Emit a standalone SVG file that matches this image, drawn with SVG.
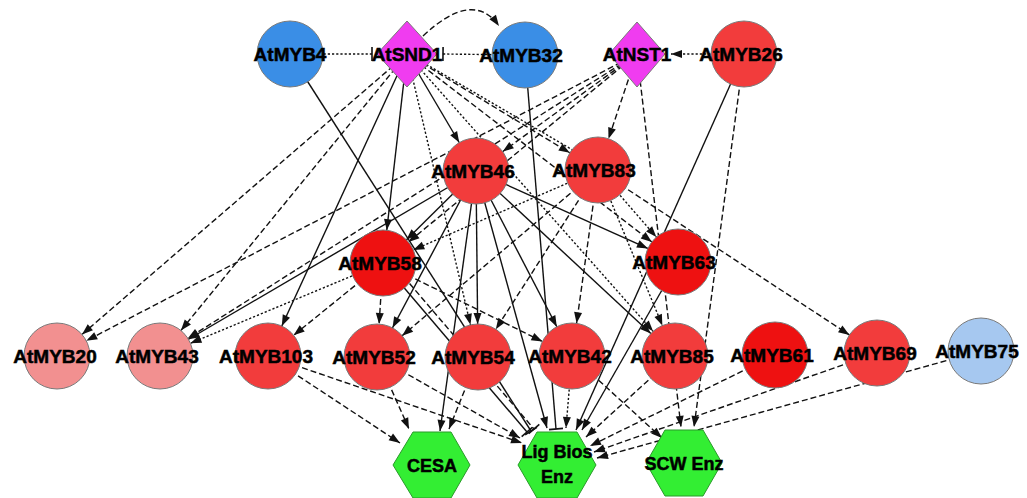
<svg xmlns="http://www.w3.org/2000/svg" width="1027" height="498" viewBox="0 0 1027 498">
<style>
.c line,.c path{stroke:#111;stroke-width:1.4;fill:none}
.d{stroke-dasharray:6 3}
.o{stroke-dasharray:2.2 2}
.n{stroke:#7a7a7a;stroke-width:1}
.blue{fill:#3a8ee6}
.lblue{fill:#a6c8f0}
.mag{fill:#f03cf0}
.red{fill:#f23c3c}
.dred{fill:#ee1111}
.pink{fill:#f29090}
.hex{fill:#33ee33;stroke:#2a9a2a;stroke-width:1}
text{font-family:"Liberation Sans",Arial,sans-serif;font-weight:bold;font-size:19px;text-anchor:middle;fill:#000;stroke:#000;stroke-width:0.5}
.h{font-size:18px}
</style>
<defs>
<marker id="a0" markerUnits="userSpaceOnUse" viewBox="-12 -6 14 12" refX="0" refY="0" markerWidth="14" markerHeight="12" orient="auto"><path d="M0,0 L-11,-4 L-11,4 z" fill="#111"/></marker>
<marker id="a33" markerUnits="userSpaceOnUse" viewBox="-46 -6 48 12" refX="0" refY="0" markerWidth="48" markerHeight="12" orient="auto"><path d="M-33,0 L-44,-4 L-44,4 z" fill="#111"/></marker>
<marker id="t0" markerUnits="userSpaceOnUse" viewBox="-3 -8 6 16" refX="0" refY="0" markerWidth="6" markerHeight="16" orient="auto"><path d="M0,-7 L0,7" stroke="#111" stroke-width="1.6"/></marker>
</defs>
<g id="connectors" class="c">
<line class="o" x1="290" y1="54" x2="372" y2="54" marker-end="url(#t0)"/>
<line class="o" x1="525" y1="55" x2="443" y2="54" marker-end="url(#t0)"/>
<line class="o" x1="744" y1="54" x2="671" y2="54" marker-end="url(#a0)"/>
<path class="d" d="M423,36 Q473,-11 499,26" marker-end="url(#a0)"/>
<line class="d" x1="407" y1="54" x2="57" y2="356" marker-end="url(#a33)"/>
<line class="d" x1="407" y1="54" x2="160" y2="356" marker-end="url(#a33)"/>
<line x1="407" y1="54" x2="268" y2="356" marker-end="url(#a33)"/>
<line x1="407" y1="54" x2="383" y2="263" marker-end="url(#a33)"/>
<line x1="407" y1="54" x2="476" y2="171" marker-end="url(#a33)"/>
<line class="d" x1="407" y1="54" x2="598" y2="170" marker-end="url(#a33)"/>
<line class="o" x1="412" y1="56" x2="600" y2="166"/>
<line class="d" x1="407" y1="54" x2="678" y2="262" marker-end="url(#a33)"/>
<line class="o" x1="407" y1="54" x2="675" y2="356" marker-end="url(#a33)"/>
<line class="o" x1="407" y1="54" x2="478" y2="357" marker-end="url(#a33)"/>
<line class="d" x1="637" y1="54" x2="476" y2="171" marker-end="url(#a33)"/>
<line class="d" x1="637" y1="54" x2="598" y2="170" marker-end="url(#a33)"/>
<line class="d" x1="637" y1="54" x2="383" y2="263" marker-end="url(#a33)"/>
<line class="d" x1="637" y1="54" x2="160" y2="356" marker-end="url(#a33)"/>
<line class="d" x1="637" y1="54" x2="57" y2="356" marker-end="url(#a33)"/>
<line class="d" x1="637" y1="54" x2="681" y2="427" marker-end="url(#a0)"/>
<line x1="290" y1="54" x2="531" y2="431" marker-end="url(#t0)"/>
<line x1="525" y1="55" x2="556" y2="429" marker-end="url(#t0)"/>
<line x1="744" y1="54" x2="576" y2="430" marker-end="url(#a0)"/>
<line class="d" x1="744" y1="54" x2="694" y2="427" marker-end="url(#a0)"/>
<line x1="476" y1="171" x2="383" y2="263" marker-end="url(#a33)"/>
<line x1="476" y1="171" x2="160" y2="356" marker-end="url(#a33)"/>
<line x1="476" y1="171" x2="377" y2="357" marker-end="url(#a33)"/>
<line x1="476" y1="171" x2="478" y2="357" marker-end="url(#a33)"/>
<line x1="476" y1="171" x2="572" y2="356" marker-end="url(#a33)"/>
<line x1="476" y1="171" x2="675" y2="356" marker-end="url(#a33)"/>
<line x1="476" y1="171" x2="678" y2="262" marker-end="url(#a33)"/>
<line x1="476" y1="171" x2="440" y2="431" marker-end="url(#a0)"/>
<line x1="476" y1="171" x2="547" y2="428" marker-end="url(#a0)"/>
<line class="o" x1="598" y1="170" x2="383" y2="263" marker-end="url(#a33)"/>
<line class="d" x1="598" y1="170" x2="377" y2="357" marker-end="url(#a33)"/>
<line class="d" x1="598" y1="170" x2="478" y2="357" marker-end="url(#a33)"/>
<line class="d" x1="598" y1="170" x2="572" y2="356" marker-end="url(#a33)"/>
<line class="o" x1="598" y1="170" x2="675" y2="356" marker-end="url(#a33)"/>
<line class="o" x1="598" y1="170" x2="678" y2="262" marker-end="url(#a33)"/>
<line class="d" x1="598" y1="170" x2="877" y2="353" marker-end="url(#a33)"/>
<line class="o" x1="383" y1="263" x2="160" y2="356" marker-end="url(#a33)"/>
<line class="d" x1="383" y1="263" x2="268" y2="356" marker-end="url(#a33)"/>
<line class="d" x1="383" y1="263" x2="377" y2="357" marker-end="url(#a33)"/>
<line class="d" x1="383" y1="263" x2="572" y2="356" marker-end="url(#a33)"/>
<line x1="383" y1="263" x2="527" y2="432" marker-end="url(#t0)"/>
<line class="d" x1="392" y1="263" x2="534" y2="429" marker-end="url(#t0)"/>
<line x1="678" y1="262" x2="582" y2="430" marker-end="url(#a0)"/>
<line class="d" x1="268" y1="356" x2="400" y2="443" marker-end="url(#a0)"/>
<line class="d" x1="268" y1="356" x2="522" y2="443" marker-end="url(#a0)"/>
<line class="d" x1="377" y1="357" x2="409" y2="429" marker-end="url(#a0)"/>
<line class="d" x1="377" y1="357" x2="520" y2="438" marker-end="url(#a0)"/>
<line class="d" x1="478" y1="357" x2="449" y2="429" marker-end="url(#a0)"/>
<line class="o" x1="572" y1="356" x2="566" y2="428" marker-end="url(#a0)"/>
<line class="d" x1="572" y1="356" x2="662" y2="438" marker-end="url(#a0)"/>
<line class="d" x1="675" y1="356" x2="586" y2="437" marker-end="url(#a0)"/>
<line class="d" x1="775" y1="355" x2="590" y2="446" marker-end="url(#a0)"/>
<line class="d" x1="877" y1="353" x2="594" y2="452" marker-end="url(#a0)"/>
<line class="d" x1="981" y1="351" x2="597" y2="458" marker-end="url(#a0)"/>
</g>
<g id="AtMYB4"><circle class="n blue" cx="290" cy="54" r="33"/><text x="290" y="61">AtMYB4</text></g>
<g id="AtSND1"><polygon class="n mag" points="407,21 437,54 407,87 377,54"/><text x="407" y="61">AtSND1</text></g>
<g id="AtMYB32"><circle class="n blue" cx="525" cy="55" r="33"/><text x="521" y="62">AtMYB32</text></g>
<g id="AtNST1"><polygon class="n mag" points="637,22 665,54 637,87 609,54"/><text x="637" y="61">AtNST1</text></g>
<g id="AtMYB26"><circle class="n red" cx="744" cy="54" r="33"/><text x="741" y="61">AtMYB26</text></g>
<g id="AtMYB46"><circle class="n red" cx="476" cy="171" r="33"/><text x="473" y="178">AtMYB46</text></g>
<g id="AtMYB83"><circle class="n red" cx="598" cy="170" r="33"/><text x="594" y="177">AtMYB83</text></g>
<g id="AtMYB58"><circle class="n dred" cx="383" cy="263" r="33"/><text x="380" y="270">AtMYB58</text></g>
<g id="AtMYB63"><circle class="n dred" cx="678" cy="262" r="33"/><text x="674" y="269">AtMYB63</text></g>
<g id="AtMYB20"><circle class="n pink" cx="57" cy="356" r="33"/><text x="55" y="363">AtMYB20</text></g>
<g id="AtMYB43"><circle class="n pink" cx="160" cy="356" r="33"/><text x="157" y="363">AtMYB43</text></g>
<g id="AtMYB103"><circle class="n red" cx="268" cy="356" r="33"/><text x="266" y="363">AtMYB103</text></g>
<g id="AtMYB52"><circle class="n red" cx="377" cy="357" r="33"/><text x="374" y="364">AtMYB52</text></g>
<g id="AtMYB54"><circle class="n red" cx="478" cy="357" r="33"/><text x="473" y="364">AtMYB54</text></g>
<g id="AtMYB42"><circle class="n red" cx="572" cy="356" r="33"/><text x="570" y="363">AtMYB42</text></g>
<g id="AtMYB85"><circle class="n red" cx="675" cy="356" r="33"/><text x="672" y="363">AtMYB85</text></g>
<g id="AtMYB61"><circle class="n dred" cx="775" cy="355" r="33"/><text x="772" y="362">AtMYB61</text></g>
<g id="AtMYB69"><circle class="n red" cx="877" cy="353" r="33"/><text x="875" y="360">AtMYB69</text></g>
<g id="AtMYB75"><circle class="n lblue" cx="981" cy="351" r="33"/><text x="977" y="358">AtMYB75</text></g>
<g id="CESA"><polygon class="hex" points="393,465 413,432 451,432 470,465 451,498 413,498"/><text class="h" x="432" y="472">CESA</text></g>
<g id="LigBiosEnz"><polygon class="hex" points="518,465 537,432 577,432 596,465 577,498 537,498"/><text class="h" x="557" y="458">Lig Bios</text><text class="h" x="557" y="483">Enz</text></g>
<g id="SCWEnz"><polygon class="hex" points="646,463 665,430 703,430 722,463 703,496 665,496"/><text class="h" x="684" y="470">SCW Enz</text></g>
</svg>
